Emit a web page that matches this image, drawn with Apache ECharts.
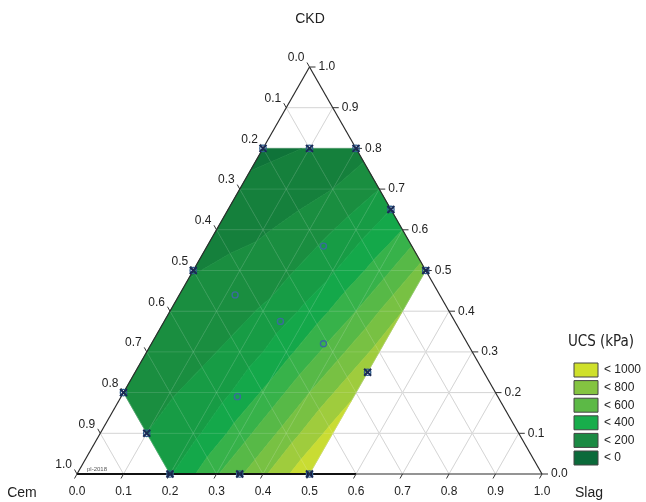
<!DOCTYPE html>
<html><head><meta charset="utf-8">
<script src="https://cdn.jsdelivr.net/npm/echarts@6/dist/echarts.min.js"></script>
<style>html,body{margin:0;padding:0;background:#fff}#c{width:646px;height:502px}</style>
</head><body><div id="c"></div>
<script>
// ---------- data ----------
const tickValues = [0,0.1,0.2,0.3,0.4,0.5,0.6,0.7,0.8,0.9,1.0];
const tickLabels = ['0.0','0.1','0.2','0.3','0.4','0.5','0.6','0.7','0.8','0.9','1.0'];
const gridSteps = [0.1,0.2,0.3,0.4,0.5,0.6,0.7,0.8,0.9];
// estimated UCS (kPa) on a ternary grid: rows = CKD level, columns = Slag level
const slagLevels = [0,0.1,0.2,0.3,0.4,0.5];
const ckdLevels  = [0,0.1,0.2,0.3,0.4,0.5,0.6,0.7,0.8];
const ucsRows = [
  [null,null,390,590,780,990],
  [null,300,370,550,740,940],
  [260,290,350,510,700,890],
  [240,270,330,470,650,840],
  [220,250,310,430,600,800],
  [195,225,280,390,550,750],
  [165,190,245,350,500,null],
  [120,150,200,300,null,null],
  [ 75,105,150,null,null,null]
];
// design points [Cem, Slag, CKD]
const boundaryPoints = [
  [0.2,0,0.8],[0.1,0.1,0.8],[0,0.2,0.8],[0,0.35,0.65],[0,0.5,0.5],[0.25,0.5,0.25],
  [0.5,0.5,0],[0.65,0.35,0],[0.8,0.2,0],[0.8,0.1,0.1],[0.8,0,0.2],[0.5,0,0.5]
];
const interiorPoints = [
  [0.19,0.25,0.56],[0.44,0.12,0.44],[0.375,0.25,0.375],[0.31,0.37,0.32],[0.56,0.25,0.19]
];
const bandEdges = [0,100,200,300,400,500,600,700,800,900];
const bandColors = ['#0b6536','#0f7339','#15803c','#1a8e40','#179c45','#14a84a','#37b24a','#57b947','#78c143','#9fcc3d','#c9dc33'];
const legendLabels = ['< 1000','< 800','< 600','< 400','< 200','< 0'];
const legendColors = ['#cfe02a','#84c441','#5cb946','#18ad4b','#1b8a43','#0b6a3a'];
const axisNames = ['CKD','Cem','Slag'];
const legendTitle = 'UCS (kPa)';

// ---------- helpers ----------
function tern(cem, slag, ckd){ return [slag + ckd/2, ckd]; }
function gridPt(i,j){
  if (i > 5 || j > 8) return null;
  const v = ucsRows[j][i];
  if (v === null || v === undefined) return null;
  const s = slagLevels[i], k = ckdLevels[j];
  const p = tern(1-s-k, s, k);
  return [p[0], p[1], v];
}
const triangles = [];
for (let j = 0; j < 8; j++) {
  for (let i = 0; i < 6; i++) {
    const a = gridPt(i,j), b = gridPt(i+1,j), c = gridPt(i,j+1), d = gridPt(i+1,j+1);
    if (a && b && c) triangles.push([...a,...b,...c]);
    if (b && c && d) triangles.push([...b,...d,...c]);
  }
}
function clip(poly, f){
  const out = [];
  for (let n = 0; n < poly.length; n++) {
    const a = poly[n], b = poly[(n+1)%poly.length];
    const fa = f(a), fb = f(b);
    if (fa >= 0) out.push(a);
    if ((fa >= 0) !== (fb >= 0)) {
      const t = fa/(fa-fb);
      out.push([a[0]+(b[0]-a[0])*t, a[1]+(b[1]-a[1])*t, a[2]+(b[2]-a[2])*t]);
    }
  }
  return out;
}
const gridSegs = [];
gridSteps.forEach(t => {
  gridSegs.push([...tern(1-t,0,t), ...tern(0,1-t,t)]);   // constant CKD
  gridSegs.push([...tern(1-t,t,0), ...tern(0,t,1-t)]);   // constant Slag
  gridSegs.push([...tern(t,1-t,0), ...tern(t,0,1-t)]);   // constant Cem
});
const FONT = "'Liberation Sans', Arial, sans-serif";

function lineEl(p1, p2, color, w, z){
  return {type:'line', shape:{x1:p1[0],y1:p1[1],x2:p2[0],y2:p2[1]}, style:{stroke:color, lineWidth:w}, z2:z||0};
}

const option = {
  animation:false,
  grid:{left:77, top:67, width:465, height:407, containLabel:false, show:false},
  xAxis:{type:'value', min:0, max:1, show:false},
  yAxis:{type:'value', min:0, max:1, show:false},
  series:[
    { // background grid
      type:'custom', z:1, clip:false, silent:true,
      data: gridSegs,
      renderItem:(params, api) => lineEl(api.coord([api.value(0),api.value(1)]), api.coord([api.value(2),api.value(3)]), '#cfcfcf', 1)
    },
    { // contour fill
      type:'custom', z:2, clip:false, silent:true,
      data: triangles,
      renderItem:(params, api) => {
        const P = [0,1,2].map(n => [api.value(3*n), api.value(3*n+1), api.value(3*n+2)]);
        const children = [];
        for (let b = 0; b <= bandEdges.length; b++) {
          const lo = b === 0 ? -1e9 : bandEdges[b-1];
          const hi = b === bandEdges.length ? 1e9 : bandEdges[b];
          let poly = clip(P, q => q[2] - lo);
          if (poly.length < 3) continue;
          poly = clip(poly, q => hi - q[2]);
          if (poly.length < 3) continue;
          children.push({type:'polygon', shape:{points: poly.map(q => api.coord([q[0], q[1]]))},
            style:{fill:bandColors[b], stroke:bandColors[b], lineWidth:0.7}});
        }
        return {type:'group', children};
      }
    },
    { // faint grid over fill
      type:'custom', z:3, clip:false, silent:true,
      data: gridSegs,
      renderItem:(params, api) => lineEl(api.coord([api.value(0),api.value(1)]), api.coord([api.value(2),api.value(3)]), 'rgba(255,255,255,0.13)', 1)
    },
    { // triangle frame, ticks, tick labels
      type:'custom', z:4, clip:false, silent:true,
      data:[[0,0]],
      renderItem:(params, api) => {
        const A = api.coord(tern(1,0,0)), B = api.coord(tern(0,1,0)), C = api.coord(tern(0,0,1));
        const ch = [];
        ch.push(lineEl(A,C,'#2a2a2a',1.2));
        ch.push(lineEl(B,C,'#2a2a2a',1.2));
        ch.push(lineEl(A,B,'#2a2a2a',1.2));
        ch.push(lineEl(A, api.coord(tern(0.4,0.6,0)), '#111', 2.2));
        tickValues.forEach((t, n) => {
          const pb = api.coord(tern(1-t,t,0));
          ch.push(lineEl(pb,[pb[0]-2.5,pb[1]+4.5],'#333',1));
          ch.push({type:'text', x:pb[0], y:pb[1]+18, style:{text:tickLabels[n], fontSize:12, fontFamily:FONT, fill:'#222', align:'center', verticalAlign:'middle'}});
          const pl = api.coord(tern(t,0,1-t));
          ch.push(lineEl(pl,[pl[0]-2.5,pl[1]-4.5],'#333',1));
          ch.push({type:'text', x:pl[0]-5, y:pl[1]-9, style:{text:tickLabels[n], fontSize:12, fontFamily:FONT, fill:'#222', align:'right', verticalAlign:'middle'}});
          const pr = api.coord(tern(0,1-t,t));
          ch.push(lineEl(pr,[pr[0]+6,pr[1]],'#333',1));
          ch.push({type:'text', x:pr[0]+9, y:pr[1], style:{text:tickLabels[n], fontSize:12, fontFamily:FONT, fill:'#222', align:'left', verticalAlign:'middle'}});
        });
        const wm = api.coord(tern(1,0,0));
        ch.push({type:'text', x:wm[0]+10, y:wm[1]-5, style:{text:'pl-2018', fontSize:6, fontFamily:FONT, fill:'#555', align:'left', verticalAlign:'middle'}});
        return {type:'group', children:ch};
      }
    },
    { // boundary design points: circle + x
      type:'custom', z:5, clip:false, silent:true,
      data: boundaryPoints.map(p => tern(p[0],p[1],p[2])),
      renderItem:(params, api) => {
        const c = api.coord([api.value(0), api.value(1)]);
        return {type:'group', children:[
          {type:'circle', shape:{cx:c[0], cy:c[1], r:3.2}, style:{fill:'none', stroke:'#2f5f8f', lineWidth:1.3}},
          lineEl([c[0]-3.5,c[1]-3.5],[c[0]+3.5,c[1]+3.5],'#1b2a55',2),
          lineEl([c[0]-3.5,c[1]+3.5],[c[0]+3.5,c[1]-3.5],'#1b2a55',2)
        ]};
      }
    },
    { // interior design points (open circles)
      type:'custom', z:5, clip:false, silent:true,
      data: interiorPoints.map(p => tern(p[0],p[1],p[2])),
      renderItem:(params, api) => {
        const c = api.coord([api.value(0), api.value(1)]);
        return {type:'circle', shape:{cx:c[0], cy:c[1], r:3}, style:{fill:'none', stroke:'#3a6c9c', lineWidth:1.4}};
      }
    }
  ],
  graphic:[
    {type:'text', x:310, y:19, style:{text:axisNames[0], fontSize:14, fontFamily:FONT, fill:'#222', align:'center', verticalAlign:'middle'}},
    {type:'text', x:22, y:493, style:{text:axisNames[1], fontSize:14, fontFamily:FONT, fill:'#222', align:'center', verticalAlign:'middle'}},
    {type:'text', x:589, y:493, style:{text:axisNames[2], fontSize:14, fontFamily:FONT, fill:'#222', align:'center', verticalAlign:'middle'}},
    {type:'text', x:601, y:342, style:{text:legendTitle, fontSize:15, fontFamily:"'Liberation Sans Narrow', 'DejaVu Sans Condensed', sans-serif", fill:'#222', align:'center', verticalAlign:'middle'}},
    ...legendLabels.map((lab, n) => ({type:'group', children:[
      {type:'rect', shape:{x:574, y:363 + n*17.6, width:24, height:14}, style:{fill:legendColors[n], stroke:'#444', lineWidth:1}},
      {type:'text', x:604, y:370 + n*17.6, style:{text:lab, fontSize:12, fontFamily:FONT, fill:'#222', align:'left', verticalAlign:'middle'}}
    ]}))
  ]
};
const chart = echarts.init(document.getElementById('c'));
chart.setOption(option);
</script></body></html>
